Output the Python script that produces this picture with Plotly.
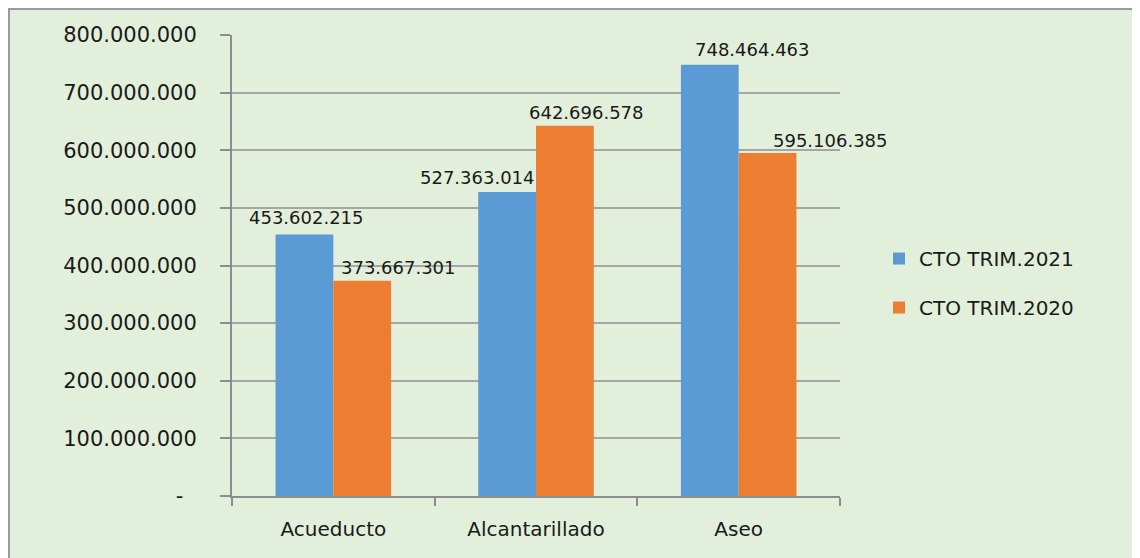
import plotly.graph_objects as go

categories = ['Acueducto', 'Alcantarillado', 'Aseo']
cto_2021 = [453602215, 527363014, 748464463]
cto_2020 = [373667301, 642696578, 595106385]
series_names = ['CTO TRIM.2021', 'CTO TRIM.2020']
tick_values = [0, 100000000, 200000000, 300000000, 400000000,
               500000000, 600000000, 700000000, 800000000]
tick_labels = ['-\u00a0\u00a0', '100.000.000', '200.000.000', '300.000.000', '400.000.000',
               '500.000.000', '600.000.000', '700.000.000', '800.000.000']

color_2021 = '#5b9bd5'
color_2020 = '#ed7d31'
font_face = 'DejaVu Sans'
text_color = '#1a1a1a'

# page body adds an 8px margin, so the figure starts at (8, 8) on screen
W, H = 1140, 558
ml, mr, mt, mb = 224, 308, 27, 70
pw, ph = W - ml - mr, H - mt - mb


def fmt(v):
    return f'{v:,}'.replace(',', '.')


fig = go.Figure()
fig.add_trace(go.Bar(name=series_names[0], x=categories, y=cto_2021,
                     marker=dict(color=color_2021, line=dict(width=0)),
                     legendgroup='a'))
fig.add_trace(go.Bar(name=series_names[1], x=categories, y=cto_2020,
                     marker=dict(color=color_2020, line=dict(width=0)),
                     legendgroup='b'))

# data labels, nudged like the original
shifts_2021 = [(-27, 5), (-59, 2), (14, 3)]
shifts_2020 = [(65, 1), (50, 1), (92, 0)]
for vals, shifts in ((cto_2021, shifts_2021), (cto_2020, shifts_2020)):
    for cat, v, (dx, dy) in zip(categories, vals, shifts):
        fig.add_annotation(x=cat, y=v, text=fmt(v), showarrow=False,
                           xanchor='center', yanchor='bottom',
                           xshift=dx, yshift=dy,
                           font=dict(family=font_face, size=18, color=text_color))

# outer green panel with grey border
fig.add_shape(type='rect', xref='paper', yref='paper', layer='below',
              x0=(1 - ml) / pw, x1=(W + 5 - ml) / pw,
              y0=-(mb + 5) / ph, y1=1 + (mt - 1) / ph,
              fillcolor='#e2efda', line=dict(color='#9a9a9a', width=2))

fig.update_layout(
    width=W, height=H,
    margin=dict(l=ml, r=mr, t=mt, b=mb, pad=0, autoexpand=False),
    paper_bgcolor='white',
    plot_bgcolor='#fff2cc',
    barmode='group', bargap=0.43, bargroupgap=0,
    font=dict(family=font_face, size=20, color=text_color),
    legend=dict(x=(879 - 8 - ml) / pw, y=0.462, xanchor='left', yanchor='middle',
                bgcolor='rgba(0,0,0,0)', font=dict(size=20),
                tracegroupgap=20, traceorder='grouped'),
    xaxis=dict(range=[-0.5, 2.5], showgrid=False, showline=True,
               linecolor='#8c8c8c', linewidth=2,
               ticks='outside', tickson='boundaries', ticklen=8,
               tickcolor='#8c8c8c', tickwidth=2, ticklabelstandoff=14,
               tickfont=dict(size=20)),
    yaxis=dict(range=[0, 800000000], tickvals=tick_values, ticktext=tick_labels,
               showgrid=True, gridcolor='#a6a6a6', gridwidth=2,
               showline=True, linecolor='#8c8c8c', linewidth=2,
               ticks='outside', ticklen=10, tickcolor='#8c8c8c', tickwidth=2,
               ticklabelstandoff=19,
               zeroline=False, tickfont=dict(size=21)),
)

fig.write_html('out.html')
